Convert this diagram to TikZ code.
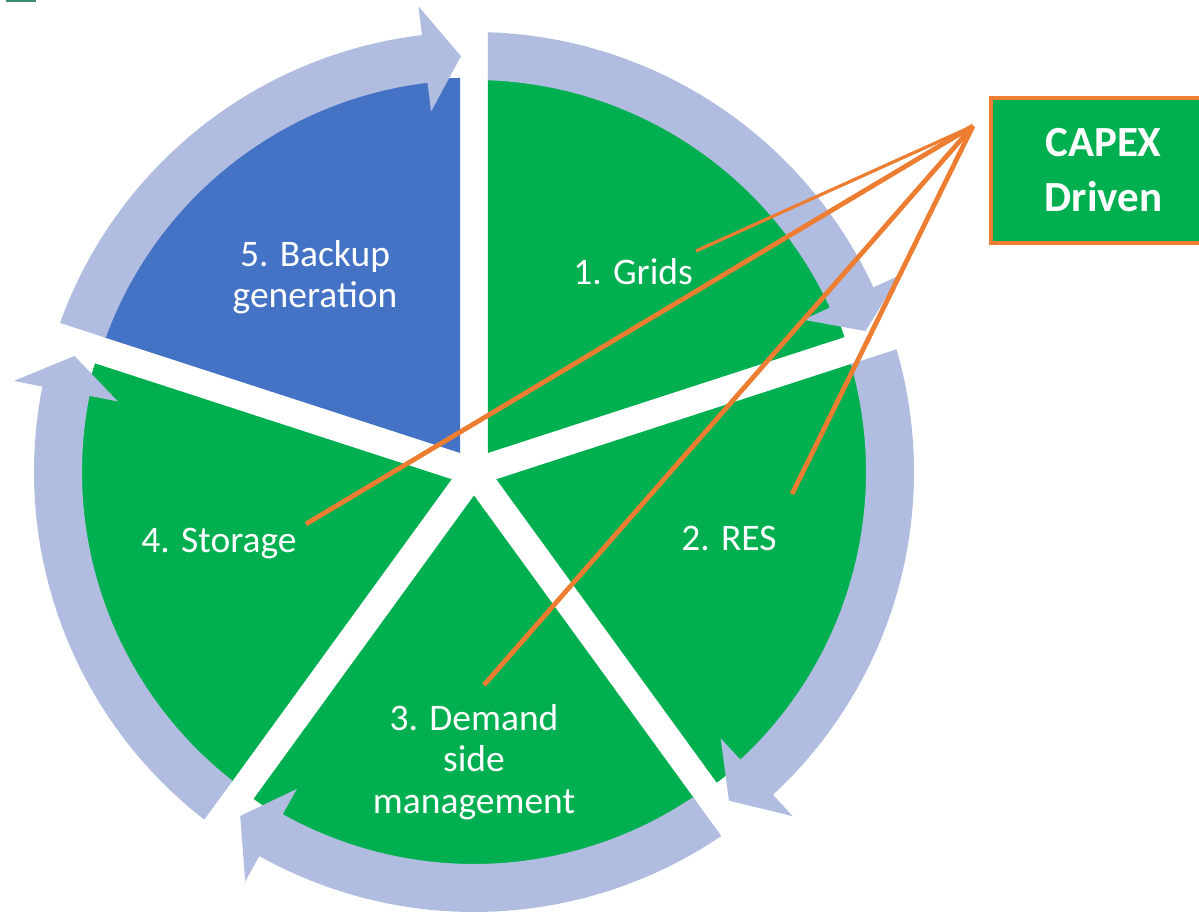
\documentclass[tikz,border=0pt]{standalone}
\usepackage{fontspec}
\setmainfont{Carlito}
\definecolor{cgreen}{HTML}{00B050}
\definecolor{cblue}{HTML}{4472C4}
\definecolor{carrow}{HTML}{B0BDE0}
\definecolor{corange}{HTML}{ED7D31}
\definecolor{cmark}{HTML}{3E8F6E}
\tikzset{
  lbl/.style={text=white, font=\fontsize{37.5}{41.5}\selectfont, align=center, inner sep=0pt},
  conn/.style={draw=corange, line width=4.8pt},
  connthin/.style={draw=corange, line width=3.2pt},
  capex/.style={draw=corange, line width=4pt, fill=cgreen, text=white,
    font=\bfseries\fontsize{43}{55}\selectfont, align=center,
    minimum width=225pt, minimum height=145pt, inner sep=0pt}
}
\begin{document}
\begin{tikzpicture}[x=1pt,y=1pt]
\useasboundingbox (0,0) rectangle (1199,914);
\clip (0,0) rectangle (1199,914);
\fill[cmark] (6,912.3) rectangle (36,914);
\begin{scope}[shift={(474,442)}]
  % sectors
  \foreach \a/\col in {90/cgreen, 18/cgreen, -54/cgreen, -126/cgreen, -198/cblue}{
    \fill[\col] ({\a-36}:23.5) -- ++({\a}:375)
      arc[start angle={\a}, end angle={\a-72}, radius=375] -- cycle;
  }
  % ring arrows
  \foreach \a in {90, 18, -54, -126, -198}{
    \fill[carrow] ({\a-1.81}:440)
      arc[start angle={\a-1.81}, end angle={\a-72+6.8}, radius=440]
      -- ({\a-72+6.8}:469) -- ({\a-72+1.8}:416) -- ({\a-72+6.8}:363)
      -- ({\a-72+6.8}:392)
      arc[start angle={\a-72+6.8}, end angle={\a-2.02}, radius=392] -- cycle;
  }
\end{scope}
% labels
\node[lbl] (backup) at (315,637) {5. Backup\\generation};
\node[lbl, anchor=base] (grids) at (633,629) {1. Grids};
\node[lbl, anchor=base] (res) at (729,364) {2. RES};
\node[lbl, anchor=base] (storage) at (219,362) {4. Storage};
\node[lbl] (demand) at (474,152) {3. Demand\\side\\management};
% CAPEX box
\node[capex] (box) at (1103.5,743.5) {CAPEX\\Driven};
% connectors
\coordinate (hub) at (973,788);
\coordinate (gE) at (696,663);
\coordinate (sE) at (306,390);
\coordinate (rE) at (792,420);
\coordinate (dE) at (484,229);
\draw[connthin] (hub) -- (gE);
\draw[conn] (hub) -- (sE);
\draw[conn] (hub) -- (rE);
\draw[conn] (hub) -- (dE);
\end{tikzpicture}
\end{document}
